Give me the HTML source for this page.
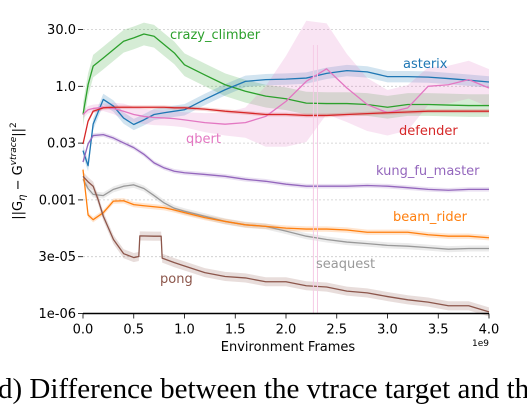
<!DOCTYPE html>
<html><head><meta charset="utf-8"><style>
body{margin:0;background:#fff;width:527px;height:408px;overflow:hidden}
svg text{font-family:"DejaVu Sans","Liberation Sans",sans-serif}
</style></head><body>
<svg id="chart" width="527" height="408" xmlns="http://www.w3.org/2000/svg">
<g id="grid"></g>
<g id="bands"></g>
<g id="lines"></g>
<g id="axes"></g>
<g id="labels"></g>
<text transform="translate(22,171) rotate(-90)" text-anchor="middle" font-size="13">||G<tspan font-style="italic" font-size="10" dy="3">η</tspan><tspan dy="-3"> − G</tspan><tspan font-style="italic" font-size="9" dy="-6">vtrace</tspan><tspan dy="6">||</tspan><tspan font-size="9" dy="-6">2</tspan></text>
<text x="288" y="351" text-anchor="middle" font-size="13">Environment Frames</text>
<text x="489" y="346" text-anchor="end" font-size="9">1e9</text>
<text x="-2" y="398" font-size="29" style="font-family:'Liberation Serif',serif">d) Difference between the vtrace target and the</text>
</svg>
<script>
const frames=[0,0.05,0.1,0.2,0.3,0.4,0.5,0.6,0.7,0.8,0.9,1.0,1.2,1.4,1.6,1.8,2.0,2.2,2.4,2.6,2.8,3.0,3.2,3.4,3.6,3.8,4.0];
const crazyClimber=[0.18,1.1,3.4,5.6,9.3,15.5,19,24,21,12.6,7.6,3.7,2.0,1.1,0.74,0.55,0.47,0.36,0.35,0.35,0.33,0.28,0.33,0.33,0.32,0.31,0.31];
const asterix=[0.02,0.008,0.1,0.45,0.3,0.145,0.098,0.13,0.18,0.2,0.22,0.24,0.45,0.81,1.35,1.5,1.55,1.65,2.2,2.6,2.4,1.8,1.8,1.75,1.6,1.45,1.3];
const defender=[0.03,0.12,0.22,0.27,0.28,0.28,0.28,0.28,0.28,0.28,0.27,0.27,0.25,0.22,0.2,0.18,0.18,0.17,0.17,0.18,0.19,0.2,0.21,0.22,0.22,0.22,0.22];
const qbert=[0.18,0.24,0.26,0.28,0.26,0.22,0.18,0.16,0.15,0.146,0.14,0.13,0.11,0.1,0.11,0.16,0.4,1.35,2.9,0.9,0.33,0.2,0.27,1.0,1.1,1.5,0.9];
const qbertSpread=[0.1,0.1,0.1,0.1,0.15,0.2,0.2,0.2,0.2,0.2,0.2,0.2,0.25,0.3,0.4,0.8,1.2,1.6,1.2,0.9,0.7,0.6,0.6,0.5,0.5,0.5,0.5];
const kungFuMaster=[0.01,0.03,0.05,0.053,0.043,0.032,0.024,0.016,0.0095,0.007,0.0057,0.0052,0.0047,0.0042,0.0035,0.0031,0.0026,0.0023,0.0023,0.0023,0.0024,0.0023,0.0021,0.0019,0.0018,0.0019,0.0019];
const seaquest=[0.0035,0.002,0.0014,0.0013,0.0019,0.0023,0.0025,0.002,0.0013,0.00083,0.0006,0.0005,0.00037,0.00027,0.00022,0.0002,0.00015,0.00011,0.00009,0.000077,0.00007,0.000063,0.00006,0.000055,0.00005,0.000052,0.000052];
const beamRider=[0.0063,0.0004,0.0003,0.00046,0.00093,0.00095,0.00075,0.0007,0.00066,0.00062,0.00054,0.00046,0.00034,0.00027,0.00022,0.0002,0.00018,0.00017,0.00017,0.00016,0.00014,0.00014,0.00014,0.00012,0.00011,0.00011,0.0001];
const pongFrames=[0,0.05,0.1,0.15,0.2,0.3,0.4,0.5,0.55,0.56,0.7,0.77,0.78,0.9,1.0,1.2,1.4,1.6,1.8,2.0,2.2,2.4,2.6,2.8,3.0,3.2,3.4,3.6,3.8,4.0];
const pong=[0.0042,0.003,0.0023,0.001,0.00037,0.00009,0.000038,0.00003,0.000032,0.000112,0.00011,0.00011,0.000029,0.000022,0.000018,0.000012,0.0000095,0.0000087,0.0000069,0.0000069,0.0000054,0.000005,0.0000039,0.0000035,0.0000028,0.0000023,0.000002,0.0000016,0.0000016,0.0000011];
const yTickValues=[1e-6,3.16e-5,1e-3,0.0316,1,31.6];
const yTickLabels=["1e-06","3e-05","0.001","0.03","1.0","30.0"];
const xTickValues=[0,0.5,1,1.5,2,2.5,3,3.5,4];
const xTickLabels=["0.0","0.5","1.0","1.5","2.0","2.5","3.0","3.5","4.0"];

const X0=83,X1=489,Y0=313.5,Y1=29.5,LMIN=-6,LMAX=1.5;
const xs=v=>X0+(v/4)*(X1-X0);
const ys=v=>Y0-(Math.log10(v)-LMIN)/(LMAX-LMIN)*(Y0-Y1);
const NS="http://www.w3.org/2000/svg";
function mk(tag,attrs,parent){const e=document.createElementNS(NS,tag);for(const k in attrs)e.setAttribute(k,attrs[k]);parent.appendChild(e);return e;}
const grid=document.getElementById('grid'),axes=document.getElementById('axes'),bandsG=document.getElementById('bands'),linesG=document.getElementById('lines'),labelsG=document.getElementById('labels');

yTickValues.forEach((v,i)=>{
  const y=ys(v);
  const g=mk('line',{x1:X0,x2:X1,y1:y,y2:y,stroke:'#ccc','stroke-width':0.8,'stroke-dasharray':'2,2'},grid);
  
  
  const t=mk('line',{x1:X0-5,x2:X0,y1:y,y2:y,stroke:'#000','stroke-width':0.8},axes);
  
  
  const l=mk('text',{x:X0-7,y:y+4.5,'text-anchor':'end','font-size':13},axes);
  l.textContent=yTickLabels[i];
  
  
});
const sp=mk('line',{x1:X0,x2:X1,y1:Y0,y2:Y0,stroke:'#000','stroke-width':1.6},axes);


xTickValues.forEach((v,i)=>{
  const x=xs(v);
  const t=mk('line',{x1:x,x2:x,y1:Y0,y2:Y0+5,stroke:'#000','stroke-width':0.8},axes);
  
  
  const l=mk('text',{x:x,y:Y0+20,'text-anchor':'middle','font-size':13},axes);
  l.textContent=xTickLabels[i];
  
  
});

const series=[
 {name:'crazy_climber',fx:frames,v:crazyClimber,c:'#2ca02c',b:0.3,lx:170,ly:39},
 {name:'asterix',fx:frames,v:asterix,c:'#1f77b4',b:0.15,lx:403,ly:68},
 {name:'qbert',fx:frames,v:qbert,c:'#e377c2',b:qbertSpread,lx:186,ly:143},
 {name:'defender',fx:frames,v:defender,c:'#d62728',b:0.05,lx:399,ly:135},
 {name:'kung_fu_master',fx:frames,v:kungFuMaster,c:'#9467bd',b:0.06,lx:376,ly:175},
 {name:'seaquest',fx:frames,v:seaquest,c:'#999999',b:0.08,lx:316,ly:268},
 {name:'beam_rider',fx:frames,v:beamRider,c:'#ff7f0e',b:0.07,lx:393,ly:221},
 {name:'pong',fx:pongFrames,v:pong,c:'#8c564b',b:0.12,lx:160,ly:283}
];
series.forEach(s=>{
  const bw=i=>Array.isArray(s.b)?s.b[i]:s.b;
  const up=s.fx.map((f,i)=>xs(f)+','+ys(s.v[i]*Math.pow(10,bw(i)))).join(' ');
  const dn=s.fx.map((f,i)=>xs(f)+','+ys(s.v[i]/Math.pow(10,bw(i)))).reverse().join(' ');
  const band=mk('polygon',{points:up+' '+dn,fill:s.c,'fill-opacity':0.2,stroke:'none'},bandsG);
  
  
  const ln=mk('polyline',{points:s.fx.map((f,i)=>xs(f)+','+ys(s.v[i])).join(' '),fill:'none',stroke:s.c,'stroke-width':1.3,'stroke-linejoin':'round'},linesG);
  
  
  const t=mk('text',{x:s.lx,y:s.ly,fill:s.c,'font-size':13},labelsG);
  t.textContent=s.name;
  
  
});
[2.27,2.31].forEach(f=>{
  const v=mk('line',{x1:xs(f),x2:xs(f),y1:45,y2:Y0,stroke:'#f6cbe6','stroke-width':1},linesG);
  
  
});
</script>
</body></html>
